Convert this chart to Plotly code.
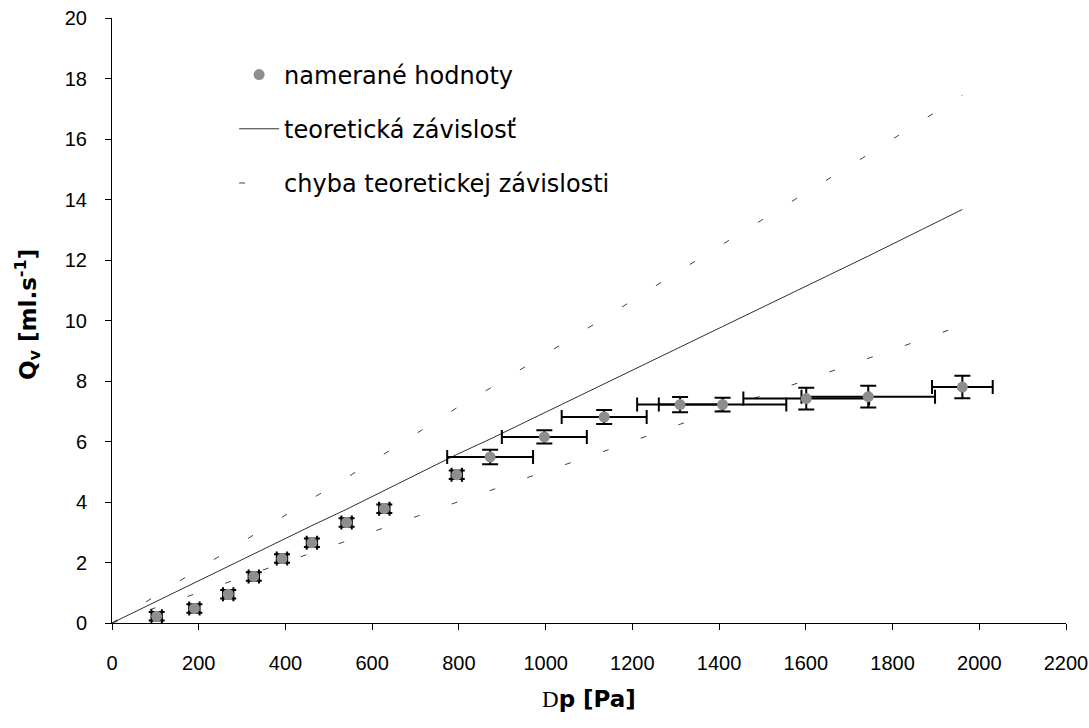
import plotly.graph_objects as go

# measured values
dp = [103, 190, 268, 327, 392, 461, 541, 628, 795, 872, 997, 1135, 1310, 1408, 1601, 1744, 1961]
qv = [0.22, 0.48, 0.95, 1.54, 2.13, 2.65, 3.32, 3.78, 4.90, 5.49, 6.15, 6.81, 7.22, 7.22, 7.42, 7.48, 7.80]
dp_err = [12, 12, 12, 12, 12, 12, 12, 12, 12, 99, 98, 98, 99, 147, 145, 154, 70]
qv_err = [0.14, 0.14, 0.14, 0.14, 0.14, 0.14, 0.14, 0.14, 0.14, 0.24, 0.22, 0.23, 0.25, 0.23, 0.36, 0.36, 0.37]

# theoretical dependence and its error band
dp_line = [0, 103, 190, 268, 327, 392, 461, 541, 628, 795, 872, 997, 1135, 1310, 1408, 1601, 1744, 1961]
q_theory = [0, 0.72, 1.33, 1.89, 2.30, 2.76, 3.22, 3.76, 4.38, 5.57, 6.08, 6.94, 7.89, 9.12, 9.80, 11.14, 12.13, 13.67]
q_upper = [0, 0.92, 1.70, 2.41, 2.94, 3.52, 4.11, 4.80, 5.59, 7.11, 7.76, 8.86, 10.08, 11.65, 12.51, 14.23, 15.49, 17.45]
q_lower = [0, 0.52, 0.96, 1.36, 1.66, 1.99, 2.32, 2.71, 3.15, 4.01, 4.38, 5.00, 5.68, 6.57, 7.06, 8.02, 8.73, 9.84]

x_ticks = list(range(0, 2201, 200))
y_ticks = list(range(0, 21, 2))

FONT = "DejaVu Sans"
TICK_FONT = "Liberation Sans"

fig = go.Figure()
fig.add_trace(go.Scatter(
    x=dp_line, y=q_theory, mode="lines", name="teoretická závislosť",
    line=dict(color="#2e2e2e", width=1), legendgroup="t", legendrank=2))
fig.add_trace(go.Scatter(
    x=dp_line, y=q_upper, mode="lines", name="chyba teoretickej závislosti",
    line=dict(color="#404040", width=1, dash="6px,34px"), legendgroup="c", legendrank=3))
fig.add_trace(go.Scatter(
    x=dp_line, y=q_lower, mode="lines", name="chyba teoretickej závislosti",
    line=dict(color="#404040", width=1, dash="6px,34px"), legendgroup="c", showlegend=False))
fig.add_trace(go.Scatter(
    x=dp, y=qv, mode="markers", name="namerané hodnoty",
    marker=dict(color="#8e8e8e", size=11),
    error_x=dict(type="data", array=dp_err, color="black", thickness=2, width=7),
    error_y=dict(type="data", array=qv_err, color="black", thickness=2, width=8),
    legendgroup="m", legendrank=1))

axis_common = dict(
    showline=True, linecolor="black", linewidth=1, showgrid=False, zeroline=False,
    ticks="outside", ticklen=6, tickcolor="black", tickwidth=1,
    ticklabeloverflow="allow", automargin=False,
    tickfont=dict(family=TICK_FONT, size=20, color="black"))

fig.update_xaxes(range=[0, 2200], tickvals=x_ticks, ticklabelstandoff=16, **axis_common)
fig.update_yaxes(range=[0, 20], tickvals=y_ticks, ticklabelstandoff=14, **axis_common)

fig.update_layout(
    width=1089, height=728, autosize=False,
    margin=dict(l=112, r=23, t=18, b=105, autoexpand=False),
    paper_bgcolor="white", plot_bgcolor="white",
    font=dict(family=FONT, color="black"),
    legend=dict(x=0.128, y=0.943, xanchor="left", yanchor="top",
                font=dict(family=FONT, size=24, color="black"),
                bgcolor="rgba(0,0,0,0)", traceorder="grouped", tracegroupgap=20,
                itemwidth=40),
    annotations=[
        dict(text="<span style='font-family:Liberation Serif;font-weight:normal'>D</span><b>p [Pa]</b>",
             xref="paper", yref="paper", x=0.5, y=-0.125, xanchor="center", yanchor="middle",
             showarrow=False, font=dict(family=FONT, size=23, color="black")),
        dict(text="<b>Q<sub>v</sub> [ml.s<sup>-1</sup>]</b>",
             xref="paper", yref="paper", x=(27 - 112) / 954, y=(623 - 315) / 605,
             xanchor="center", yanchor="middle", textangle=-90,
             showarrow=False, font=dict(family=FONT, size=23, color="black")),
    ],
)

fig.write_html("out.html")
